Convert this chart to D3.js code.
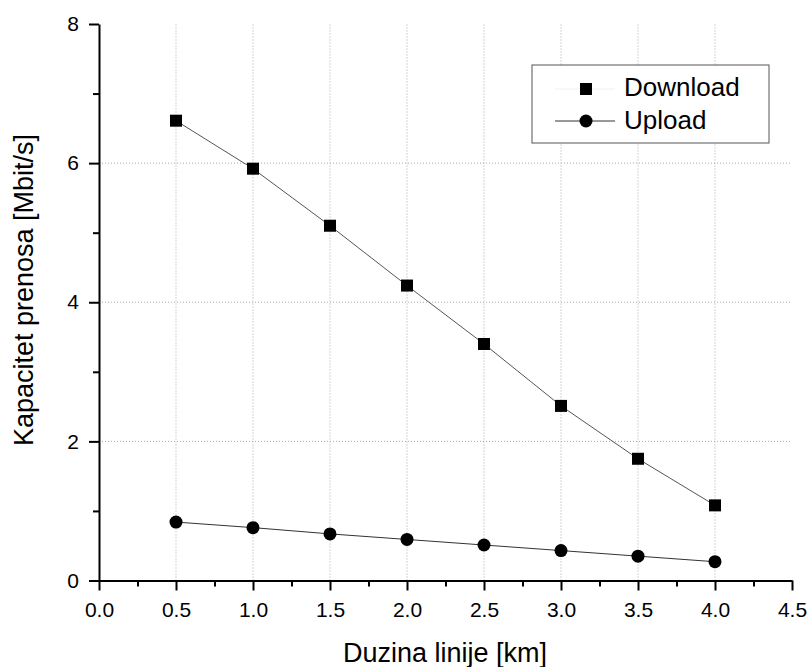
<!DOCTYPE html>
<html>
<head>
<meta charset="utf-8">
<script src="https://cdn.jsdelivr.net/npm/d3@7"></script>
<style>
  body { margin: 0; background: #fff; }
  text { font-family: "Liberation Sans", Arial, sans-serif; fill: #000; }
  .grid line { stroke: #aaa; stroke-width: 1; stroke-dasharray: 1,2; }
  .axis path, .axis line { stroke: #000; stroke-width: 2; }
</style>
</head>
<body>
<svg id="chart" width="811" height="667"></svg>
<script>
const lengths = [0.5, 1.0, 1.5, 2.0, 2.5, 3.0, 3.5, 4.0];
const download = [6.61, 5.92, 5.10, 4.24, 3.40, 2.51, 1.75, 1.08];
const upload = [0.84, 0.76, 0.67, 0.59, 0.51, 0.43, 0.35, 0.27];
const xTicks = [0, 0.5, 1, 1.5, 2, 2.5, 3, 3.5, 4, 4.5];
const yTicks = [0, 2, 4, 6, 8];

const svg = d3.select('#chart');
const x = d3.scaleLinear().domain([0, 4.5]).range([99, 792]);
const y = d3.scaleLinear().domain([0, 8]).range([580.5, 24]);

// grid
const grid = svg.append('g').attr('class', 'grid');
grid.selectAll('.gx').data(xTicks.filter(d => d > 0 && d < 4.5)).enter().append('line')
  .attr('x1', d => x(d)).attr('x2', d => x(d)).attr('y1', y(0)).attr('y2', y(8));
grid.selectAll('.gy').data(yTicks.filter(d => d > 0 && d < 8)).enter().append('line')
  .attr('x1', x(0)).attr('x2', x(4.5)).attr('y1', d => y(d)).attr('y2', d => y(d));

// axes
const xAxis = svg.append('g').attr('class', 'axis').attr('transform', `translate(0,${y(0)})`)
  .call(d3.axisBottom(x).tickValues(xTicks).tickFormat(d3.format('.1f')).tickSize(10).tickSizeOuter(0).tickPadding(12));
xAxis.selectAll('text').attr('font-size', 21);
svg.append('g').attr('class', 'axis').attr('transform', `translate(0,${y(0)})`)
  .call(d3.axisBottom(x).tickValues(d3.range(0.25, 4.5, 0.5)).tickFormat('').tickSize(6).tickSizeOuter(0))
  .select('.domain').remove();

const yAxis = svg.append('g').attr('class', 'axis').attr('transform', `translate(${x(0)},0)`)
  .call(d3.axisLeft(y).tickValues(yTicks).tickSize(10).tickSizeOuter(0).tickPadding(10));
yAxis.selectAll('text').attr('font-size', 21);
svg.append('g').attr('class', 'axis').attr('transform', `translate(${x(0)},0)`)
  .call(d3.axisLeft(y).tickValues([1, 3, 5, 7]).tickFormat('').tickSize(6).tickSizeOuter(0))
  .select('.domain').remove();

// titles
svg.append('text').attr('x', 445).attr('y', 662).attr('text-anchor', 'middle')
  .attr('font-size', 27).text('Duzina linije [km]');
svg.append('text').attr('transform', 'translate(33,290) rotate(-90)').attr('text-anchor', 'middle')
  .attr('font-size', 27).text('Kapacitet prenosa [Mbit/s]');

// series
const line = d3.line().x(d => x(d[0])).y(d => y(d[1]));
const dl = lengths.map((l, i) => [l, download[i]]);
const ul = lengths.map((l, i) => [l, upload[i]]);
svg.append('path').attr('d', line(dl)).attr('fill', 'none').attr('stroke', '#555').attr('stroke-width', 1);
svg.append('path').attr('d', line(ul)).attr('fill', 'none').attr('stroke', '#333').attr('stroke-width', 1);
svg.selectAll('.sq').data(dl).enter().append('rect')
  .attr('x', d => x(d[0]) - 6).attr('y', d => y(d[1]) - 6).attr('width', 12).attr('height', 12).attr('fill', '#000');
svg.selectAll('.ci').data(ul).enter().append('circle')
  .attr('cx', d => x(d[0])).attr('cy', d => y(d[1])).attr('r', 6.5).attr('fill', '#000');

// legend
const lg = svg.append('g');
lg.append('rect').attr('x', 532).attr('y', 65).attr('width', 237).attr('height', 78)
  .attr('fill', '#fff').attr('stroke', '#555').attr('stroke-width', 1);
lg.append('line').attr('x1', 555).attr('x2', 615).attr('y1', 89).attr('y2', 89).attr('stroke', '#f0f0f0');
lg.append('rect').attr('x', 580).attr('y', 83).attr('width', 12).attr('height', 12).attr('fill', '#000');
lg.append('text').attr('x', 624).attr('y', 96).attr('font-size', 26).text('Download');
lg.append('line').attr('x1', 555).attr('x2', 615).attr('y1', 121).attr('y2', 121).attr('stroke', '#333');
lg.append('circle').attr('cx', 586).attr('cy', 121).attr('r', 6.5).attr('fill', '#000');
lg.append('text').attr('x', 624).attr('y', 129).attr('font-size', 26).text('Upload');
</script>
</body>
</html>
